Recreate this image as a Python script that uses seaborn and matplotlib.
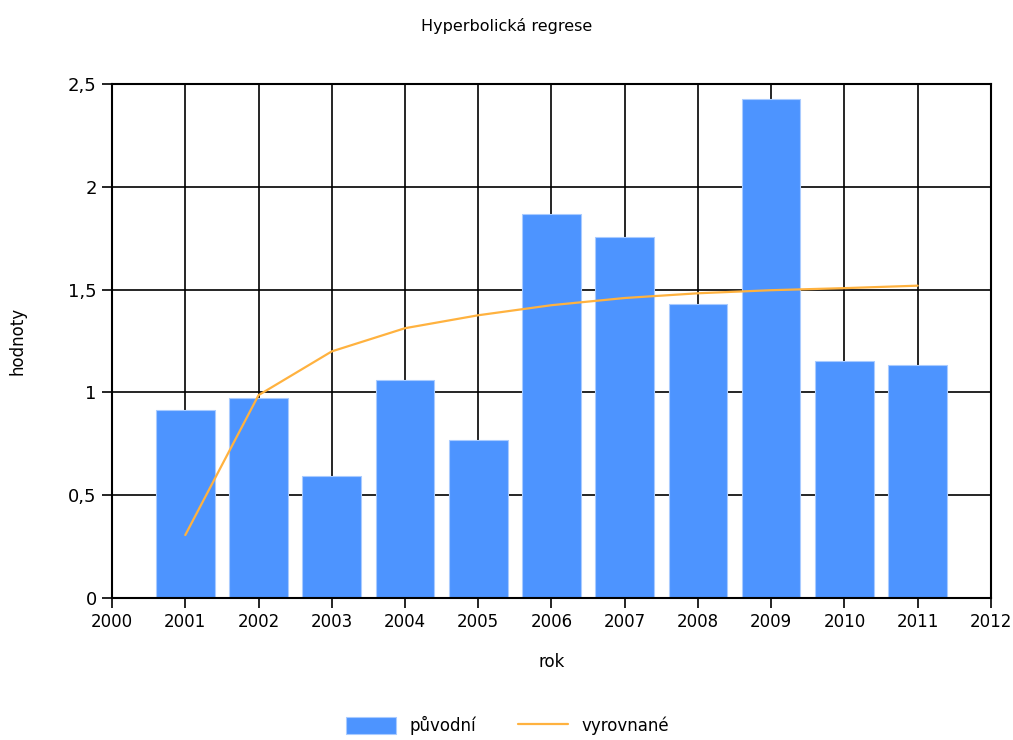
import numpy as np
import pandas as pd
import seaborn as sns
import matplotlib.pyplot as plt
from matplotlib.ticker import FuncFormatter

# data
roky = [2001, 2002, 2003, 2004, 2005, 2006, 2007, 2008, 2009, 2010, 2011]
puvodni = [0.914, 0.973, 0.593, 1.06, 0.768, 1.868, 1.756, 1.43, 2.427, 1.153, 1.133]
vyrovnane = [0.306, 0.987, 1.20, 1.313, 1.376, 1.425, 1.46, 1.483, 1.498, 1.508, 1.52]

df = pd.DataFrame({'rok': roky, 'puvodni': puvodni, 'vyrovnane': vyrovnane})

sns.set_style('white')
plt.rcParams['font.family'] = ['DejaVu Sans']
plt.rcParams['text.color'] = 'black'
plt.rcParams['axes.labelcolor'] = 'black'
plt.rcParams['xtick.color'] = 'black'
plt.rcParams['ytick.color'] = 'black'

fig = plt.figure(figsize=(10.13, 7.4), dpi=100)
ax = fig.add_axes([0.1106, 0.192, 0.8676, 0.694])

sns.barplot(data=df, x='rok', y='puvodni', native_scale=True, color='#4d94ff',
            saturation=1, width=0.8, label='původní', ax=ax, zorder=2,
            edgecolor='#a9cbff', linewidth=0.8)
sns.lineplot(data=df, x='rok', y='vyrovnane', color='#ffb23f', lw=1.6,
             label='vyrovnané', ax=ax, zorder=3)

ax.set_xlim(2000, 2012)
ax.set_ylim(0, 2.5)
ax.set_xticks(range(2000, 2013))
ax.set_yticks([0, 0.5, 1, 1.5, 2, 2.5])
ax.yaxis.set_major_formatter(FuncFormatter(lambda v, p: ('%g' % v).replace('.', ',')))
ax.grid(True, color='black', lw=1.2, zorder=0)
ax.set_axisbelow(True)
for s in ax.spines.values():
    s.set_color('black')
    s.set_linewidth(1.5)
ax.tick_params(axis='both', direction='out', length=7, width=1.2, color='black',
               bottom=True, left=True, labelsize=12, pad=4)
ax.tick_params(axis='y', labelsize=13)

ax.set_xlabel('rok', fontsize=12, labelpad=16)
ax.set_ylabel('hodnoty', fontsize=12, labelpad=30)
fig.suptitle('Hyperbolická regrese', y=0.975, fontsize=11.5)

h, l = ax.get_legend_handles_labels()
order = [l.index('původní'), l.index('vyrovnané')]
ax.legend([h[i] for i in order], [l[i] for i in order],
          loc='upper center', bbox_to_anchor=(0.45, -0.2), ncol=2, frameon=False,
          fontsize=12, handlelength=3.0, handleheight=1.2, columnspacing=2.5)

fig.savefig('out.png', dpi=100)
